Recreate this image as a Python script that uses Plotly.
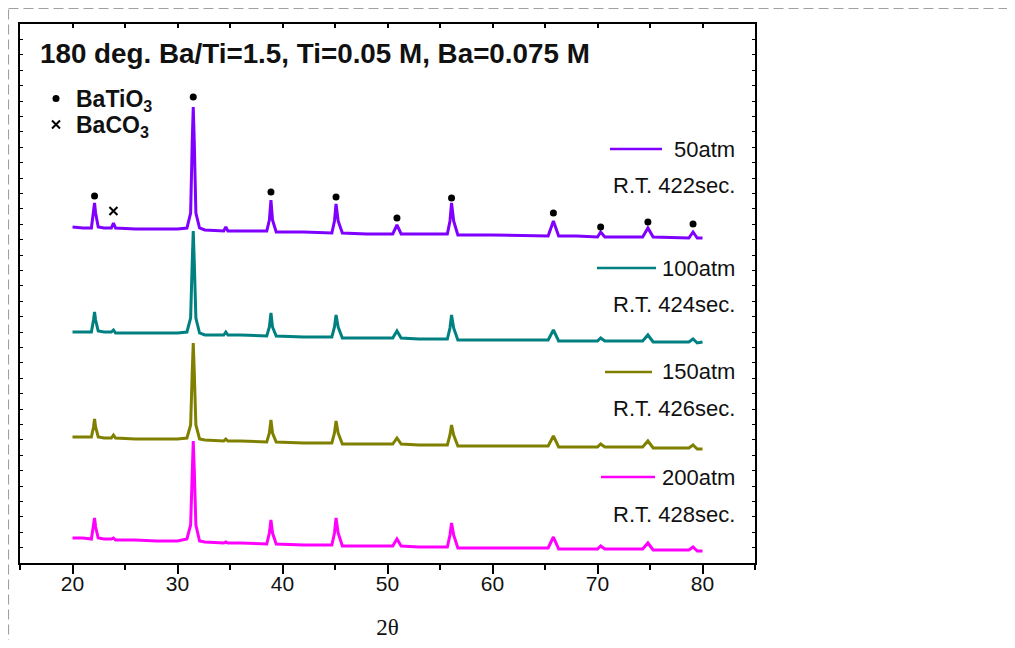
import plotly.graph_objects as go

# ---------------- data ----------------
two_theta = [20.0, 21.0, 21.8, 22.0, 22.1, 22.2, 22.45, 23.0, 23.7, 23.9, 24.1, 26.0, 28.0, 30.0,
             30.9, 31.25, 31.4, 31.5, 31.6, 31.75, 32.1, 32.6, 34.4, 34.6, 34.8, 36.0, 38.5, 38.75,
             38.9, 39.05, 39.4, 42.0, 44.7, 44.95, 45.1, 45.3, 45.7, 48.0, 50.5, 50.9, 51.3, 53.0,
             55.7, 55.95, 56.1, 56.3, 56.7, 60.0, 65.3, 65.8, 66.3, 68.0, 70.0, 70.3, 70.7, 74.3,
             74.8, 75.3, 78.7, 79.1, 79.5, 80.0]

i_50atm = [336, 335, 335, 350, 360, 350, 336, 335, 335, 340, 335, 334, 334, 334,
           335, 350, 420, 456, 420, 350, 335, 333, 332, 336, 332, 332, 332, 343,
           363, 343, 331, 331, 330, 342, 359, 342, 330, 329, 329, 338, 329, 329,
           329, 342, 360, 342, 328, 328, 327, 342, 327, 327, 326, 331, 326, 326,
           335, 326, 325, 331, 325, 325]

i_100atm = [231, 231, 231, 243, 251, 243, 232, 231, 231, 233, 230, 230, 230, 230,
            231, 245, 300, 332, 300, 245, 230, 228, 228, 231, 228, 228, 227, 236,
            250, 236, 227, 226, 226, 236, 248, 236, 225, 225, 225, 232, 225, 224,
            224, 235, 248, 235, 223, 223, 223, 233, 222, 222, 222, 225, 222, 222,
            228, 221, 221, 224, 220, 221]

i_150atm = [126, 126, 126, 136, 144, 136, 126, 125, 125, 128, 125, 124, 124, 124,
            125, 138, 190, 220, 190, 138, 124, 123, 122, 124, 122, 122, 121, 130,
            143, 130, 121, 120, 120, 130, 142, 130, 119, 119, 119, 125, 119, 118,
            118, 128, 138, 128, 117, 117, 117, 127, 116, 116, 116, 119, 116, 116,
            122, 115, 115, 118, 114, 114]

i_200atm = [25, 25, 24, 36, 45, 36, 25, 24, 24, 25, 23, 23, 22, 22,
            24, 38, 92, 122, 92, 38, 22, 21, 20, 21, 20, 20, 19, 30,
            43, 30, 19, 18, 18, 30, 45, 30, 17, 17, 17, 24, 17, 16,
            16, 28, 40, 28, 15, 15, 15, 26, 14, 14, 14, 17, 14, 14,
            20, 13, 13, 16, 12, 12]

series_names = ["50atm", "100atm", "150atm", "200atm"]
series_rt = ["R.T. 422sec.", "R.T. 424sec.", "R.T. 426sec.", "R.T. 428sec."]
series_colors = ["#7F00FF", "#008080", "#808000", "#FF00FF"]

batio3_x = [22.1, 31.5, 38.9, 45.1, 50.9, 56.1, 65.8, 70.3, 74.8, 79.1]
batio3_y = [367, 466, 371, 366, 345, 365, 350, 336, 341, 339]
baco3_x = [23.9]
baco3_y = [352]

x_ticks = [20, 30, 40, 50, 60, 70, 80]
title_text = "180 deg. Ba/Ti=1.5, Ti=0.05 M, Ba=0.075 M"

# ---------------- layout geometry ----------------
# the page body adds an 8px margin on every side; keep the figure inside the window
OFF = 8
W, H = 1015 - 2 * OFF, 648 - 2 * OFF
# plot area in screen pixels
SL, SR, ST, SB = 20, 755, 24, 563
pw, ph = SR - SL, SB - ST

def px(xs):
    return (xs - SL) / pw

def py(ys):
    return (SB - ys) / ph

FONT = "Liberation Sans, Arial, sans-serif"

fig = go.Figure()

for name, ys, col in zip(series_names, [i_50atm, i_100atm, i_150atm, i_200atm], series_colors):
    fig.add_trace(go.Scatter(x=two_theta, y=ys, mode="lines", name=name,
                             line=dict(color=col, width=3), showlegend=False,
                             hoverinfo="x+y"))

fig.add_trace(go.Scatter(x=batio3_x, y=batio3_y, mode="markers", name="<b>BaTiO<sub>3</sub></b>",
                         legend="legend",
                         marker=dict(symbol="circle", size=7, color="black")))
fig.add_trace(go.Scatter(x=baco3_x, y=baco3_y, mode="markers", name="<b>BaCO<sub>3</sub></b>",
                         legend="legend2",
                         marker=dict(symbol="x-thin", size=8, color="black",
                                     line=dict(width=2, color="black"))))
# invisible trace to realise the top (inner-tick) axis
fig.add_trace(go.Scatter(x=[two_theta[0]], y=[i_200atm[0]], xaxis="x2", mode="markers",
                         marker=dict(opacity=0), showlegend=False, hoverinfo="skip"))

# series labels (legend-style line + text)
label_line_y = [149, 268, 372, 477]
label_line_x0 = [610, 597, 605, 601]
label_line_x1 = [662, 656, 652, 655]
label_rt_y = [185, 304, 408, 514]
shapes = []
annotations = []
for i in range(4):
    shapes.append(dict(type="line", xref="paper", yref="paper",
                       x0=px(label_line_x0[i]), x1=px(label_line_x1[i]),
                       y0=py(label_line_y[i]), y1=py(label_line_y[i]),
                       line=dict(color=series_colors[i], width=2.5)))
    annotations.append(dict(xref="paper", yref="paper", x=px(737), y=py(label_line_y[i]),
                            xanchor="right", yanchor="middle", showarrow=False,
                            text=series_names[i], font=dict(family=FONT, size=22, color="#111")))
    annotations.append(dict(xref="paper", yref="paper", x=px(737), y=py(label_rt_y[i]),
                            xanchor="right", yanchor="middle", showarrow=False,
                            text=series_rt[i], font=dict(family=FONT, size=22, color="#111")))

annotations.append(dict(xref="paper", yref="paper", x=px(38), y=py(53),
                        xanchor="left", yanchor="middle", showarrow=False,
                        text="<b>" + title_text + "</b>",
                        font=dict(family=FONT, size=27.8, color="#111")))

# dashed page border
shapes.append(dict(type="rect", xref="paper", yref="paper",
                   x0=px(8.5), x1=px(1100), y0=py(8.5), y1=py(700),
                   line=dict(color="#a0a0a0", width=1.2, dash="10px,5px"),
                   fillcolor="rgba(0,0,0,0)", layer="below"))

legend_common = dict(xanchor="left", yanchor="top", bgcolor="rgba(0,0,0,0)",
                     font=dict(family=FONT, size=23, color="#111"), itemwidth=30,
                     tracegroupgap=0)

fig.update_layout(
    width=W, height=H,
    margin=dict(l=SL - OFF, r=W - (SR - OFF), t=ST - OFF, b=H - (SB - OFF), pad=0,
                autoexpand=False),
    paper_bgcolor="white", plot_bgcolor="white",
    font=dict(family=FONT, size=20, color="#111"),
    showlegend=True,
    legend=dict(x=px(36), y=py(77), **legend_common),
    legend2=dict(x=px(36), y=py(103), **legend_common),
    shapes=shapes,
    annotations=annotations,
    xaxis=dict(range=[15, 85], tickvals=x_ticks, ticks="outside", ticklen=9, tickwidth=1.5,
               tickcolor="black", showline=True, linecolor="black", linewidth=2,
               showgrid=False, zeroline=False, mirror=False, ticklabelstandoff=-8,
               automargin=False,
               minor=dict(dtick=5, tick0=15, ticks="outside", ticklen=5, tickwidth=1.5,
                          tickcolor="black", showgrid=False),
               tickfont=dict(family=FONT, size=21, color="#111"),
               title=dict(text="2θ", font=dict(family="Liberation Serif, Times New Roman, serif",
                                                size=23, color="#111"), standoff=30)),
    xaxis2=dict(range=[15, 85], overlaying="x", side="top", anchor="y", matches="x",
                tickvals=[15, 20, 25, 30, 35, 40, 45, 50, 55, 60, 65, 70, 75, 80, 85],
                ticks="inside", ticklen=4, tickwidth=1.5, tickcolor="black", automargin=False,
                showticklabels=False, showline=True, linecolor="black", linewidth=2,
                showgrid=False, zeroline=False),
    yaxis=dict(range=[0, 539], tick0=0, dtick=15.4, ticks="inside", ticklen=3, tickwidth=1.2,
               tickcolor="black", showticklabels=False, showline=True, linecolor="black",
               linewidth=2, mirror="ticks", showgrid=False, zeroline=False, automargin=False),
)

fig.write_html("out.html")
